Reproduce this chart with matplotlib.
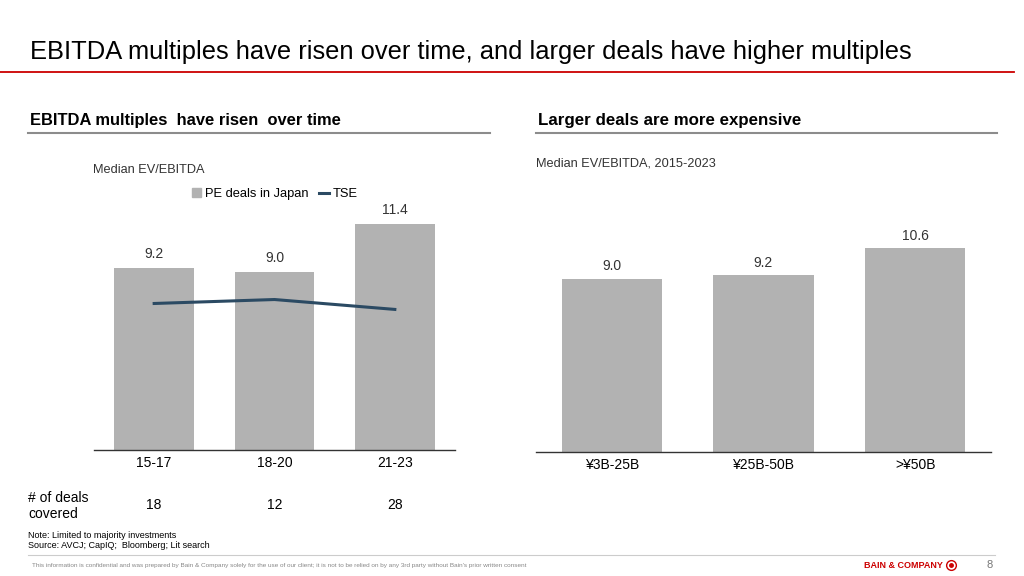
import matplotlib
matplotlib.use("Agg")
import matplotlib.pyplot as plt
from matplotlib.lines import Line2D
from matplotlib.patches import Patch

plt.rcParams["font.family"] = ["Liberation Sans", "DejaVu Sans"]

# data
periods = ["15-17", "18-20", "21-23"]
pe_multiples = [9.2, 9.0, 11.4]
tse_multiples = [7.4, 7.6, 7.1]
deal_counts = [18, 12, 28]

size_buckets = ["¥3B-25B", "¥25B-50B", ">¥50B"]
size_multiples = [9.0, 9.2, 10.6]

BAR = "#B2B2B2"
TSE = "#2B4A63"
RED = "#CC0000"
TXT = "#333333"

W, H = 1024, 576
fig = plt.figure(figsize=(W / 100, H / 100), dpi=100)


def px(x, y):
    return x / W, 1 - y / H


def box(x0, y0, x1, y1):
    return [x0 / W, 1 - y1 / H, (x1 - x0) / W, (y1 - y0) / H]


# title + red rule
fig.text(*px(30, 52), "EBITDA multiples have risen over time, and larger deals have higher multiples",
         fontsize=18.4, va="center", ha="left", color="black")
fig.add_artist(Line2D([0, 1014 / W], [1 - 72 / H] * 2, color=RED, lw=1.3))

# section headers
for x0, x1, label, fs in ((28, 490, "EBITDA multiples  have risen  over time", 11.9),
                          (536, 997, "Larger deals are more expensive", 12.2)):
    fig.text(*px(x0 + 2, 120), label, fontsize=fs, weight="bold",
             va="center", ha="left", color="black")
    fig.add_artist(Line2D([x0 / W, x1 / W], [1 - 133 / H] * 2, color="#8C8C8C", lw=1.5))

# left chart
ax1 = fig.add_axes(box(94, 180, 455, 450))
x = range(len(periods))
ax1.bar(x, pe_multiples, width=0.66, color=BAR, zorder=2)
ax1.plot(x, tse_multiples, color=TSE, lw=2.2, zorder=3)
for xi, v in zip(x, pe_multiples):
    ax1.text(xi, v + 0.35, f"{v:.1f}", ha="center", va="bottom", fontsize=10, color=TXT)
ax1.set_xlim(-0.5, 2.5)
ax1.set_ylim(0, 270 / 19.8)
ax1.set_xticks(list(x))
ax1.set_xticklabels(periods, fontsize=10, color="black")
ax1.legend(handles=[Patch(color=BAR, label="PE deals in Japan"),
                    Line2D([], [], color=TSE, lw=2.2, label="TSE")],
           loc="center", bbox_to_anchor=(0.5, 0.948), ncol=2, frameon=False,
           fontsize=9.3, handlelength=0.75, handleheight=0.75, handletextpad=0.3,
           columnspacing=0.8)
fig.text(*px(93, 170), "Median EV/EBITDA", fontsize=9.2, va="center", color=TXT)

# right chart
ax2 = fig.add_axes(box(536, 190, 991, 452))
x = range(len(size_buckets))
ax2.bar(x, size_multiples, width=0.66, color=BAR, zorder=2)
for xi, v in zip(x, size_multiples):
    ax2.text(xi, v + 0.3, f"{v:.1f}", ha="center", va="bottom", fontsize=10, color=TXT)
ax2.set_xlim(-0.5, 2.5)
ax2.set_ylim(0, 262 / 19.2)
ax2.set_xticks(list(x))
ax2.set_xticklabels(size_buckets, fontsize=10, color="black")
fig.text(*px(536, 164), "Median EV/EBITDA, 2015-2023", fontsize=9.2, va="center", color=TXT)

for ax in (ax1, ax2):
    for s in ("top", "right", "left"):
        ax.spines[s].set_visible(False)
    ax.spines["bottom"].set_color("#333333")
    ax.spines["bottom"].set_linewidth(1.0)
    ax.set_yticks([])
    ax.tick_params(axis="x", length=0, pad=4)
    ax.set_facecolor("none")

# deal counts row
fig.text(*px(28, 506), "# of deals\ncovered", fontsize=10, va="center", ha="left",
         color="black", linespacing=1.1)
for xi, n in enumerate(deal_counts):
    xf = ax1.transData.transform((xi, 0))[0] / W
    fig.text(xf, 1 - 505 / H, str(n), fontsize=10, ha="center", va="center", color="black")

# notes
fig.text(*px(28, 535), "Note: Limited to majority investments", fontsize=6.5, va="center")
fig.text(*px(28, 545), "Source: AVCJ; CapIQ;  Bloomberg; Lit search", fontsize=6.5, va="center")

# footer
fig.add_artist(Line2D([28 / W, 995 / W], [1 - 555 / H] * 2, color="#CCCCCC", lw=0.8))
fig.text(*px(32, 566), "This information is confidential and was prepared by Bain & Company solely for the use of our client; "
         "it is not to be relied on by any 3rd party without Bain's prior written consent",
         fontsize=4.6, va="center", color="#888888")
fig.text(*px(943, 566), "BAIN & COMPANY", fontsize=6.5, weight="bold", ha="right",
         va="center", color=RED)
fig.add_artist(Line2D([951 / W], [1 - 565 / H], marker="o", markersize=7, fillstyle="none",
                      markeredgecolor=RED, markeredgewidth=1.0, lw=0))
fig.add_artist(Line2D([951 / W], [1 - 565 / H], marker="o", markersize=2.5,
                      color=RED, lw=0))
fig.text(*px(990, 565), "8", fontsize=8, ha="center", va="center", color="#777777")

fig.savefig("out.png", dpi=100)
